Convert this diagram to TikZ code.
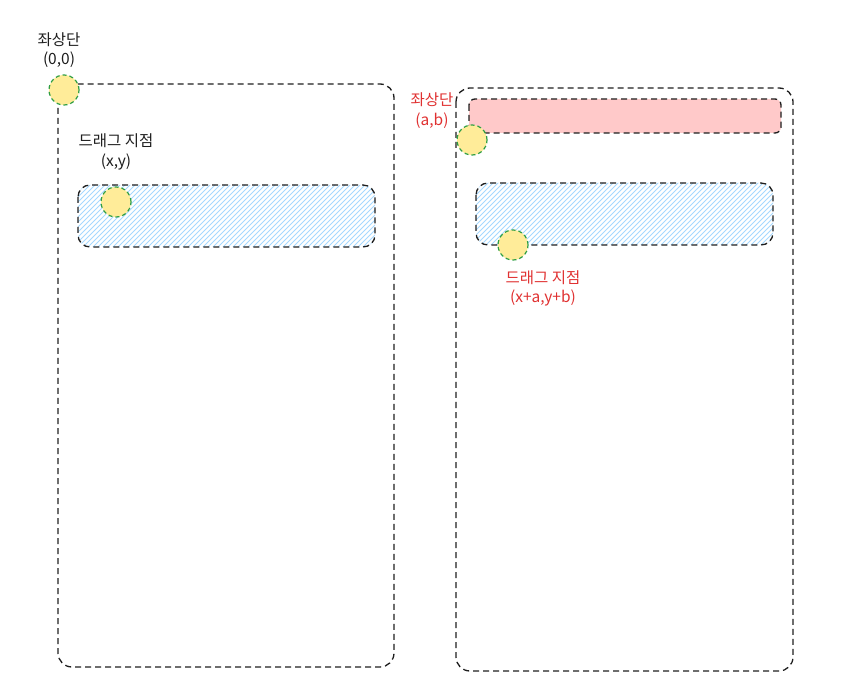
\documentclass[tikz,border=0pt]{standalone}
\usepackage{fontspec}
\setmainfont{Noto Sans CJK KR}
\definecolor{yel}{HTML}{FFEC99}
\definecolor{grn}{HTML}{2F9E44}
\definecolor{blu}{HTML}{A5D8FF}
\definecolor{pnk}{HTML}{FFC9C9}
\definecolor{redt}{HTML}{E03131}
\definecolor{ink}{HTML}{1E1E1E}
\begin{document}
\begin{tikzpicture}[x=1pt,y=-1pt,
  dsh/.style={draw=ink,line width=1.3pt,dash pattern=on 6pt off 4pt},
  frame/.style={dsh,rounded corners=14pt},
  hatchb/.style={dsh,rounded corners=12pt},
  bar/.style={dsh,rounded corners=6pt,fill=pnk},
  hline/.style={draw=blu,line width=0.9pt},
  dot/.style={circle,draw=grn,line width=1.2pt,dash pattern=on 4pt off 3pt,fill=yel,minimum size=30pt,inner sep=0pt},
  lbl/.style={font=\fontsize{15.5}{18}\selectfont,text=ink,align=center,inner sep=0pt},
  rlbl/.style={lbl,text=redt}]
\useasboundingbox (0,0) rectangle (863,687);
% left
\draw[frame] (58,84) rectangle (394,667);
\begin{scope}
\clip[rounded corners=12pt] (78,185) rectangle (375,247);
\foreach \i in {0,5,...,380} \draw[hline] (78-70+\i,252) -- ++(72,-72);
\end{scope}
\draw[hatchb] (78,185) rectangle (375,247);
\node[dot] (o1) at (64,90) {};
\node[dot] (d1) at (116,202) {};
\node[lbl] (t1) at (59,40) {좌상단};
\node[lbl] (t2) at (59,60) {(0,0)};
\node[lbl] (t3) at (116,141) {드래그 지점};
\node[lbl] (t4) at (116,162) {(x,y)};
% right
\draw[frame] (456,88) rectangle (793,671);
\draw[bar] (469,99) rectangle (781,133);
\begin{scope}
\clip[rounded corners=12pt] (476,183) rectangle (773,245);
\foreach \i in {0,5,...,380} \draw[hline] (476-70+\i,250) -- ++(72,-72);
\end{scope}
\draw[hatchb] (476,183) rectangle (773,245);
\node[dot] (o2) at (472,140) {};
\node[dot] (d2) at (513,245) {};
\node[rlbl] (t5) at (432,100) {좌상단};
\node[rlbl] (t6) at (432,121) {(a,b)};
\node[rlbl] (t7) at (543,278) {드래그 지점};
\node[rlbl] (t8) at (543,298) {(x+a,y+b)};
\end{tikzpicture}
\end{document}
